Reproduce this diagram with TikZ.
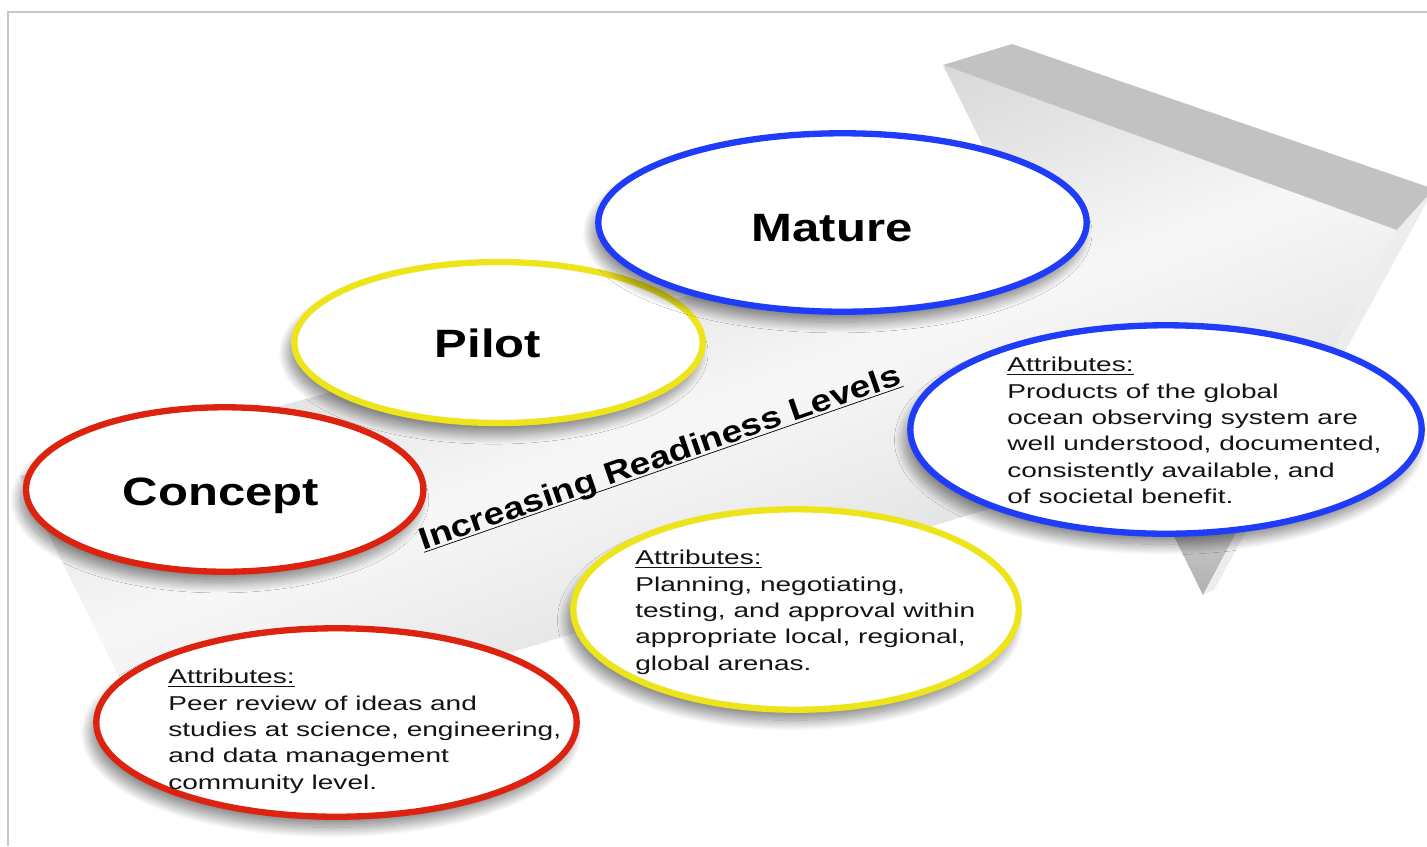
\documentclass[tikz,border=0pt]{standalone}
\usepackage{fontspec}
\setmainfont{Liberation Sans}
\newfontfamily\stagefont[FakeStretch=1.24]{Liberation Sans}
\newfontfamily\attrfont[FakeStretch=1.4]{Liberation Sans}
\newfontfamily\levelfont[FakeStretch=1.2]{Liberation Sans}
\usetikzlibrary{shapes.geometric,shadows.blur}

\definecolor{conceptred}{HTML}{DC2310}
\definecolor{pilotyellow}{HTML}{EEE41C}
\definecolor{matureblue}{HTML}{1F3CF8}
\definecolor{framegray}{HTML}{C8C8C8}

\tikzset{
  stage/.style={ellipse, line width=3.6pt, fill=white, inner sep=0pt,
    blur shadow={shadow xshift=-3pt, shadow yshift=-6pt, shadow blur radius=6pt, shadow blur steps=30, shadow opacity=50}},
  stagetext/.style={font=\stagefont\bfseries\fontsize{22.5}{27}\selectfont, anchor=base, inner sep=0pt},
  attrtext/.style={font=\attrfont\fontsize{11.4}{15}\selectfont, align=left, anchor=north west, inner sep=0pt, text=black!92},
  leveltext/.style={font=\levelfont\bfseries\fontsize{17.6}{20}\selectfont, anchor=base, inner sep=0pt}
}

\begin{document}
\begin{tikzpicture}[x=0.02cm, y=-0.02cm]
	\useasboundingbox (0,0) rectangle (1427,846);
	\clip (0,0) rectangle (1427,846);
	\draw[framegray, line width=0.9pt] (8,846) -- (8,12) -- (1427,12);

	% the big arrow
	\coordinate (ul) at (20,476);
	\coordinate (j1) at (1014,208);
	\coordinate (b1) at (943,65);
	\coordinate (t) at (1397,230);
	\coordinate (b2) at (1203,595);
	\coordinate (j2) at (1139,464);
	\coordinate (ll) at (159,758);

	\shade[top color=gray!50, bottom color=gray!40, middle color=gray!6, shading angle=20]
	  (ul) -- (j1) -- (b1) -- (t) -- (b2) -- (j2) -- (ll) -- cycle;
	\shade[top color=gray!40, bottom color=gray!62] (1164.6,517) -- (1244.5,517) -- (b2) -- cycle;
	\fill[gray!48] (b1) -- (1012,44) -- (1434,189) -- (t) -- cycle;
	\fill[gray!14] (t) -- (1434,189) -- (1214,590) -- (b2) -- cycle;

	% stages
	\foreach \name/\pos/\ew/\eh/\col in {
	    pilot/{498.5,342.5}/8.17/3.22/pilotyellow,
	    mature/{842.5,222.5}/9.77/3.57/matureblue,
	    concept/{224.7,489.5}/7.95/3.29/conceptred,
	    matureinfo/{1166,429.5}/10.23/4.17/matureblue,
	    pilotinfo/{796,609.5}/8.91/4.01/pilotyellow,
	    conceptinfo/{336.5,722.5}/9.61/3.77/conceptred}{
	  \node[stage, draw=\col, minimum width=\ew cm, minimum height=\eh cm] (\name) at (\pos) {};
	}

	\node[stagetext] (concepttext) at (221,505) {Concept};
	\node[stagetext] (pilottext) at (488,357) {Pilot};
	\node[stagetext] (maturetext) at (832,241) {Mature};

	\node[attrtext] (matureattr) at (1007,357) {\underline{Attributes:}\\Products of the global\\ocean observing system are\\well understood, documented,\\consistently available, and\\of societal benefit.};
	\node[attrtext] (pilotattr) at (635,550) {\underline{Attributes:}\\Planning, negotiating,\\testing, and approval within\\appropriate local, regional,\\global arenas.};
	\node[attrtext] (conceptattr) at (168,669) {\underline{Attributes:}\\Peer review of ideas and\\studies at science, engineering,\\and data management\\community level.};

	\node[leveltext, rotate=19.1] (levels) at (663,467) {\underline{\smash{Increasing Readiness Levels}}};
\end{tikzpicture}
\end{document}
